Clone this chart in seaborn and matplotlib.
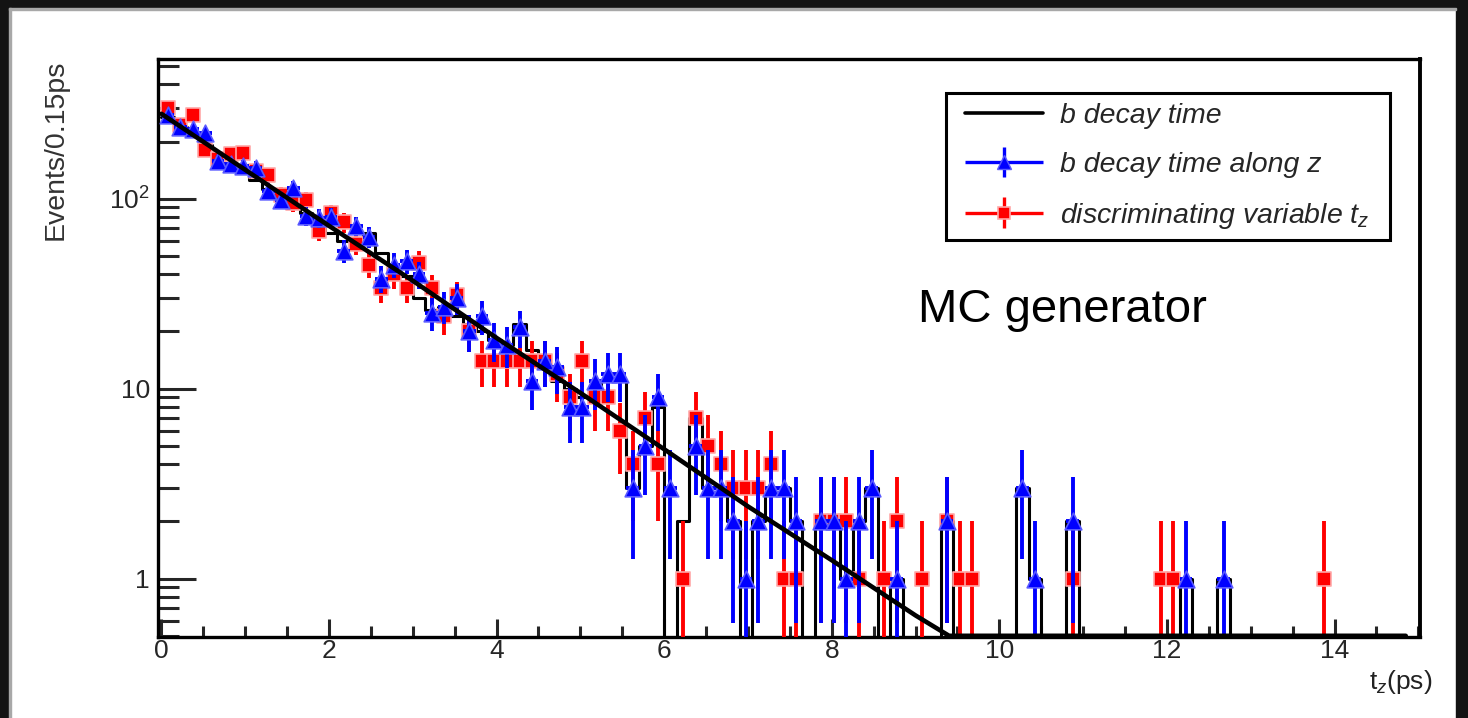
import numpy as np
import pandas as pd
import matplotlib
matplotlib.use("Agg")
import matplotlib.pyplot as plt
import seaborn as sns
from matplotlib.patches import Rectangle
from matplotlib.lines import Line2D
from matplotlib.legend_handler import HandlerErrorbar, HandlerLine2D
from matplotlib.ticker import MultipleLocator, LogLocator, FixedLocator, FixedFormatter, NullFormatter

# ---------------- data ----------------
bin_width = 0.15
n_bins = 100

# b decay time along z (blue points), counts per 0.15 ps bin
blue_counts = [275, 238, 232, 222, 158, 152, 148, 146, 110, 98,
               114, 81, 79, 80, 53, 72, 63, 38, 45, 47,
               40, 25, 27, 30, 20, 24, 18, 17, 21, 11,
               14, 13, 8, 8, 11, 12, 12, 3, 5, 9,
               3, 0, 5, 3, 3, 2, 1, 2, 3, 3,
               2, 0, 2, 2, 1, 2, 3, 0, 1, 0,
               0, 0, 2, 0, 0, 0, 0, 0, 3, 1,
               0, 0, 2, 0, 0, 0, 0, 0, 0, 0,
               0, 1, 0, 0, 1, 0, 0, 0, 0, 0,
               0, 0, 0, 0, 0, 0, 0, 0, 0, 0]

# discriminating variable t_z (red points)
red_counts = [300, 245, 275, 180, 162, 172, 175, 140, 133, 105,
              95, 99, 68, 84, 75, 58, 45, 34, 40, 34,
              46, 34, 24, 31, 20, 14, 14, 14, 14, 14,
              14, 12, 9, 14, 9, 9, 6, 4, 7, 4,
              0, 1, 7, 5, 4, 3, 3, 3, 4, 1,
              1, 0, 2, 2, 2, 1, 0, 1, 2, 0,
              1, 0, 2, 1, 1, 0, 0, 0, 0, 0,
              0, 0, 1, 0, 0, 0, 0, 0, 0, 1,
              1, 0, 0, 0, 0, 0, 0, 0, 0, 0,
              0, 0, 1, 0, 0, 0, 0, 0, 0, 0]

# b decay time (black histogram)
black_counts = [268, 240, 215, 192, 168, 152, 140, 125, 112, 100,
                92, 84, 74, 66, 60, 57, 66, 52, 43, 39,
                30, 26, 27, 24, 22, 20, 18, 17, 22, 16,
                13, 11, 10, 9, 10, 11, 11, 3, 5, 8,
                0, 2, 7, 3, 3, 2, 0, 2, 3, 3,
                2, 0, 2, 2, 1, 2, 3, 0, 1, 0,
                0, 0, 2, 0, 0, 0, 0, 0, 3, 1,
                0, 0, 2, 0, 0, 0, 0, 0, 0, 0,
                0, 1, 0, 0, 1, 0, 0, 0, 0, 0,
                0, 0, 0, 0, 0, 0, 0, 0, 0, 0]

# black decay curve, read at a few times (drawn at the axis floor once below it)
curve_t = [0, 1, 2, 3, 4, 5, 6, 7, 8, 9, 9.4, 14.85]
curve_v = [280, 142, 72, 37, 18.5, 9.5, 4.8, 2.4, 1.25, 0.64, 0.5, 0.5]

xtick_values = [0, 2, 4, 6, 8, 10, 12, 14]
xtick_labels = ["0", "2", "4", "6", "8", "10", "12", "14"]
ytick_values = [1, 10, 100]
ytick_labels = ["1", "10", "$10^{2}$"]

legend_labels = ["b decay time", "b decay time along z",
                 "discriminating variable $t_{z}$"]

# ---------------- style ----------------
sns.set_style("white")
plt.rcParams["font.family"] = ["Liberation Sans", "DejaVu Sans"]
plt.rcParams["mathtext.fontset"] = "custom"
plt.rcParams["mathtext.rm"] = "Liberation Sans"
plt.rcParams["mathtext.it"] = "Liberation Sans:italic"
plt.rcParams["mathtext.bf"] = "Liberation Sans:bold"

W, H = 1468, 718
fig = plt.figure(figsize=(W / 100, H / 100), dpi=100)
fig.patch.set_facecolor("white")

ax_l, ax_r, ax_t, ax_b = 158.3, 1420.0, 59.3, 637.3
ax = fig.add_axes([ax_l / W, 1 - ax_b / H, (ax_r - ax_l) / W, (ax_b - ax_t) / H])
ax.set_facecolor("white")
ax.set_yscale("log")

centers = (np.arange(n_bins) + 0.5) * bin_width

# black histogram (step outline)
df_black = pd.DataFrame({"t": centers, "n": np.asarray(black_counts, dtype=float)})
sns.histplot(data=df_black, x="t", weights="n", binwidth=bin_width,
             binrange=(0, n_bins * bin_width), element="step",
             fill=False, color="black", linewidth=2.2, ax=ax, zorder=2)

def draw_points(counts, color, halo, marker, ms, z):
    counts = np.asarray(counts, dtype=float)
    m = counts > 0
    x = centers[m]
    y = counts[m]
    err = np.sqrt(y)
    lower = np.minimum(err, y)
    ax.errorbar(x, y, xerr=bin_width / 2, yerr=[lower, err], fmt="none",
                ecolor=color, elinewidth=2.8, capsize=0, zorder=z)
    df = pd.DataFrame({"t": x, "n": y})
    sns.scatterplot(data=df, x="t", y="n", marker=marker, s=ms ** 2,
                    color=color, edgecolor=halo, linewidth=1.2, ax=ax,
                    zorder=z + 0.5, legend=False)

draw_points(red_counts, "#ff0000", "#ffa8a8", "s", 9.8, 3)
draw_points(blue_counts, "#0000ff", "#5a5aff", "^", 12, 5)

# decay curve
sns.lineplot(x=curve_t, y=curve_v, color="black", linewidth=3.3,
             estimator=None, ax=ax, zorder=7)

# ---------------- axes ----------------
ax.set_xlim(-0.037, 15.02)
ax.set_ylim(0.491, 542)

ax.xaxis.set_major_locator(FixedLocator(xtick_values))
ax.xaxis.set_major_formatter(FixedFormatter(xtick_labels))
ax.xaxis.set_minor_locator(MultipleLocator(0.5))
ax.yaxis.set_major_locator(FixedLocator(ytick_values))
ax.yaxis.set_major_formatter(FixedFormatter(ytick_labels))
ax.yaxis.set_minor_locator(LogLocator(base=10, subs=np.arange(2, 10)))
ax.yaxis.set_minor_formatter(NullFormatter())

ax.tick_params(axis="x", which="major", direction="in", length=13, width=2.2,
               labelsize=19, pad=1, bottom=True, top=False)
ax.tick_params(axis="x", which="minor", direction="in", length=8, width=2.2,
               bottom=True, top=False)
ax.tick_params(axis="y", which="major", direction="in", length=27, width=2.2,
               labelsize=19, pad=6, left=True, right=False)
ax.tick_params(axis="y", which="minor", direction="in", length=15, width=2.2,
               left=True, right=False)

for side, sp in ax.spines.items():
    sp.set_visible(True)
    sp.set_color("black")
    sp.set_linewidth(2.4)
ax.spines["right"].set_linewidth(2.8)

ax.set_ylabel("Events/0.15ps", fontsize=20.5, color="#333333", loc="top")
ax.yaxis.set_label_coords(-0.071, 1.0)
ax.set_xlabel("t$_{z}$(ps)", fontsize=19, color="#222222", loc="right")
ax.xaxis.set_label_coords(1.0095, -0.053)

# ---------------- legend ----------------
fs_leg = 20.5
h_black = Line2D([], [], color="black", linewidth=2.6)
h_blue = ax.errorbar([np.nan], [np.nan], xerr=[1], yerr=[1], fmt="^",
                     color="#0000ff", ms=9.5, mec="#5a5aff", mew=1,
                     elinewidth=2.4, capsize=0)
h_red = ax.errorbar([np.nan], [np.nan], xerr=[1], yerr=[1], fmt="s",
                    color="#ff0000", ms=9, mec="#ffa8a8", mew=1.2,
                    elinewidth=2.4, capsize=0)
xpad = 0.316
leg = ax.legend([h_black, h_blue, h_red], legend_labels,
                loc="upper left", bbox_to_anchor=(0.6243, 0.0, 0.3519, 0.9417),
                mode="expand", borderaxespad=0.0, fancybox=False,
                framealpha=1.0, edgecolor="black",
                prop={"style": "italic", "size": fs_leg},
                handlelength=3.056, handletextpad=0.6, borderpad=0.35,
                labelspacing=0.8,
                handler_map={
                    type(h_blue): HandlerErrorbar(xerr_size=1.37, yerr_size=0.53, xpad=xpad),
                    Line2D: HandlerLine2D(xpad=xpad),
                })
leg.get_frame().set_linewidth(2.2)
leg.set_zorder(10)

# annotation
fig.text(918 / W, 1 - 322 / H, "MC generator", fontsize=34, color="black",
         ha="left", va="baseline")

# ---------------- dark screenshot frame ----------------
dark = "#131313"
fig.patches.extend([
    Rectangle((0, 1 - 8 / H), 1, 8 / H, transform=fig.transFigure, color=dark, zorder=0),
    Rectangle((0, 0), 9 / W, 1, transform=fig.transFigure, color=dark, zorder=0),
    Rectangle((1456 / W, 0), 12 / W, 1, transform=fig.transFigure, color=dark, zorder=0),
    Rectangle((9 / W, 1 - 9.5 / H), (1456 - 9) / W, 1.5 / H, transform=fig.transFigure,
              color="#a8a8a8", zorder=0),
    Rectangle((9 / W, 0), 1.5 / W, 1 - 8 / H, transform=fig.transFigure,
              color="#a8a8a8", zorder=0),
])

fig.savefig("out.png", dpi=100, facecolor=fig.get_facecolor())
